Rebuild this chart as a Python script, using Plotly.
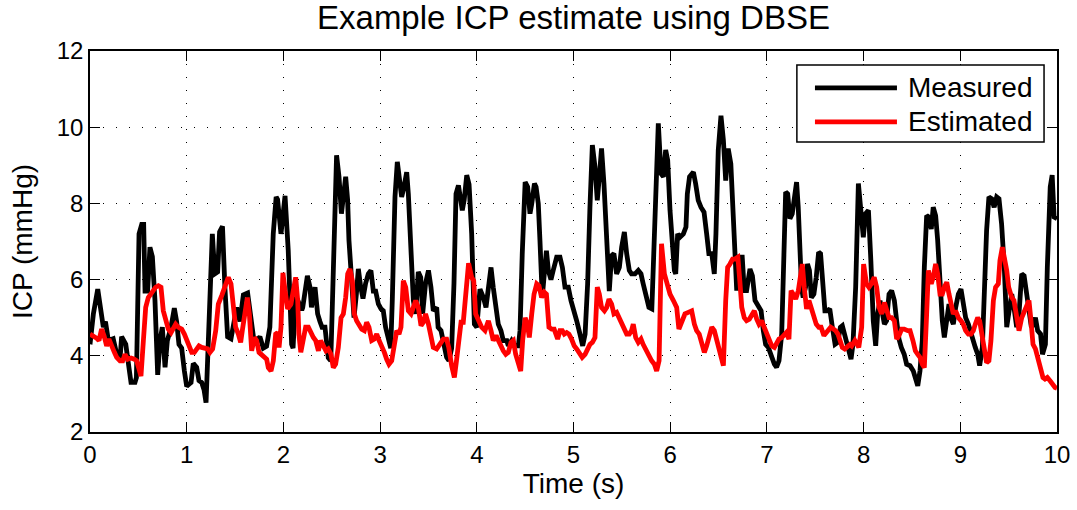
import plotly.graph_objects as go

measured_t = [0, 0.035, 0.08, 0.114, 0.138, 0.16, 0.19, 0.24, 0.276, 0.31, 0.327, 0.37, 0.397, 0.424, 0.465, 0.48,
    0.507, 0.535, 0.555, 0.569, 0.596, 0.62, 0.645, 0.672, 0.70, 0.724, 0.748, 0.776, 0.8, 0.838, 0.872, 0.896,
    0.92, 0.948, 0.976, 1.0, 1.045, 1.068, 1.103, 1.127, 1.155, 1.18, 1.2, 1.23, 1.265, 1.29, 1.32, 1.34, 1.37,
    1.395, 1.423, 1.458, 1.493, 1.517, 1.55, 1.586, 1.63, 1.654, 1.69, 1.723, 1.757, 1.792, 1.826, 1.86, 1.895,
    1.925, 1.94, 1.975, 2.017, 2.05, 2.085, 2.1, 2.126, 2.15, 2.19, 2.2, 2.248, 2.275, 2.29, 2.327, 2.354, 2.378,
    2.4, 2.43, 2.45, 2.464, 2.49, 2.516, 2.55, 2.575, 2.6, 2.62, 2.644, 2.664, 2.678, 2.706, 2.73, 2.754, 2.775,
    2.8, 2.823, 2.85, 2.878, 2.905, 2.93, 2.954, 2.982, 3.01, 3.033, 3.057, 3.085, 3.11, 3.126, 3.154, 3.178, 3.2,
    3.223, 3.247, 3.275, 3.292, 3.316, 3.344, 3.368, 3.395, 3.42, 3.44, 3.47, 3.5, 3.526, 3.55, 3.585, 3.6, 3.63,
    3.664, 3.688, 3.712, 3.74, 3.764, 3.785, 3.81, 3.833, 3.85, 3.87, 3.896, 3.92, 3.947, 3.975, 4.0, 4.033,
    4.068, 4.095, 4.12, 4.147, 4.17, 4.2, 4.222, 4.25, 4.274, 4.31, 4.326, 4.36, 4.395, 4.43, 4.447, 4.47, 4.5,
    4.526, 4.55, 4.568, 4.596, 4.613, 4.636, 4.653, 4.677, 4.698, 4.72, 4.74, 4.767, 4.79, 4.826, 4.86, 4.885,
    4.912, 4.946, 4.974, 4.998, 5.033, 5.067, 5.095, 5.12, 5.146, 5.17, 5.195, 5.222, 5.246, 5.267, 5.29, 5.315,
    5.343, 5.37, 5.394, 5.418, 5.446, 5.474, 5.498, 5.526, 5.55, 5.577, 5.6, 5.636, 5.67, 5.698, 5.72, 5.75, 5.78,
    5.81, 5.826, 5.85, 5.877, 5.905, 5.93, 5.953, 5.974, 5.998, 6.022, 6.043, 6.057, 6.077, 6.1, 6.136, 6.163,
    6.177, 6.2, 6.24, 6.263, 6.29, 6.318, 6.35, 6.377, 6.4, 6.43, 6.456, 6.473, 6.497, 6.525, 6.55, 6.574, 6.6,
    6.627, 6.653, 6.67, 6.688, 6.71, 6.745, 6.766, 6.79, 6.825, 6.85, 6.877, 6.91, 6.94, 6.963, 6.987, 7.015,
    7.05, 7.077, 7.1, 7.125, 7.153, 7.17, 7.194, 7.215, 7.238, 7.262, 7.283, 7.307, 7.324, 7.34, 7.358, 7.375,
    7.4, 7.42, 7.44, 7.46, 7.486, 7.51, 7.535, 7.555, 7.58, 7.6, 7.625, 7.65, 7.677, 7.705, 7.732, 7.76, 7.78,
    7.81, 7.84, 7.87, 7.89, 7.918, 7.946, 7.97, 7.997, 8.02, 8.05, 8.075, 8.1, 8.125, 8.145, 8.17, 8.194, 8.215,
    8.238, 8.263, 8.29, 8.318, 8.342, 8.366, 8.39, 8.42, 8.445, 8.48, 8.514, 8.538, 8.56, 8.583, 8.607, 8.628,
    8.652, 8.676, 8.7, 8.72, 8.745, 8.766, 8.79, 8.814, 8.835, 8.86, 8.883, 8.9, 8.928, 8.952, 8.98, 9.007, 9.03,
    9.055, 9.083, 9.11, 9.135, 9.155, 9.18, 9.2, 9.228, 9.248, 9.272, 9.296, 9.325, 9.35, 9.376, 9.4, 9.427,
    9.455, 9.48, 9.5, 9.532, 9.555, 9.583, 9.607, 9.635, 9.66, 9.686, 9.71, 9.735, 9.76, 9.777, 9.8, 9.83, 9.85,
    9.88, 9.9, 9.93, 9.95, 9.97, 10.0]
measured_v = [4.3, 5.1, 5.75, 5.1, 4.75, 4.9, 4.4, 4.45, 4.05, 3.9, 4.5, 4.3, 3.8, 3.3, 3.3, 3.43,
    7.2, 7.45, 7.45, 5.7, 5.7, 6.85, 6.6, 5.45, 3.5, 4.4, 4.75, 3.7, 4.4, 4.75, 5.25, 4.9,
    4.3, 4.2, 3.6, 3.2, 3.3, 3.8, 3.7, 3.35, 3.3, 3.1, 2.77, 4.57, 7.2, 6.15, 6.2, 7.25, 7.4,
    5.8, 4.5, 4.45, 5.0, 5.27, 4.9, 5.6, 5.65, 5.1, 4.5, 4.4, 4.5, 4.2, 4.25, 4.75, 7.2,
    8.17, 8.1, 7.2, 8.2, 6.76, 4.3, 4.2, 5.55, 5.45, 5.2, 5.27, 6.1, 5.8, 5.27, 5.8, 5.1, 4.9,
    4.75, 4.75, 4.2, 3.95, 3.87, 6.32, 9.26, 8.7, 7.73, 8.17, 8.7, 8.1, 7.03, 5.97, 5.0, 5.6, 6.28,
    5.8, 5.5, 5.9, 6.15, 6.24, 5.7, 5.7, 5.36, 5.23, 5.18, 4.75, 4.4, 4.2, 5.45, 8.17, 9.09, 8.7,
    8.17, 8.43, 8.82, 8.25, 7.03, 5.45, 5.1, 6.2, 6.06, 5.1, 5.9, 6.24, 5.8, 5.18, 5.27, 4.75, 4.66,
    4.3, 3.96, 3.87, 4.2, 5.9, 8.25, 8.47, 8.1, 7.82, 8.1, 8.74, 8.5, 7.2, 4.83, 4.75, 5.75,
    5.53, 5.27, 5.7, 6.32, 5.8, 5.18, 4.83, 4.66, 4.4, 4.4, 4.26, 4.4, 4.26, 4.26, 4.66, 6.68, 8.56,
    8.43, 7.73, 7.99, 8.52, 8.43, 7.99, 7.03, 5.53, 6.15, 6.76, 6.24, 6.0, 6.24, 6.59, 6.59, 6.32,
    5.8, 5.8, 5.45, 5.18, 4.92, 4.57, 4.26, 4.57, 5.89, 7.9, 9.53, 8.96, 8.08, 8.7, 9.44, 8.52,
    7.03, 5.7, 6.63, 6.68, 6.15, 6.32, 6.85, 7.25, 6.68, 6.24, 6.15, 6.15, 6.24, 6.15, 5.9, 5.53, 5.27,
    5.23, 6.32, 8.52, 10.1, 8.78, 8.7, 9.4, 9.13, 7.82, 6.85, 6.24, 6.15, 7.2, 7.11, 7.2, 7.38,
    8.25, 8.7, 8.82, 8.52, 8.08, 7.9, 7.77, 7.2, 6.68, 6.68, 6.15, 7.2, 9.4, 10.3, 9.66, 8.6, 9.44,
    9.04, 7.64, 6.59, 5.71, 6.59, 6.59, 5.71, 5.71, 6.28, 6.1, 5.45, 5.27, 5.18, 4.66, 4.3, 4.22,
    3.96, 3.78, 3.7, 3.87, 4.57, 5.97, 8.3, 8.25, 7.6, 7.73, 8.08, 8.56, 7.9, 6.68, 5.8, 5.53,
    5.8, 6.41, 6.24, 5.53, 5.62, 6.06, 6.72, 6.68, 5.8, 5.18, 5.18, 5.23, 4.75, 4.3, 4.35, 4.75, 4.79,
    4.48, 4.3, 3.91, 4.3, 5.8, 8.52, 7.82, 7.11, 7.73, 7.82, 6.5, 4.92, 4.26, 5.1, 5.45, 5.1, 4.83,
    4.92, 5.62, 5.71, 5.45, 4.92, 4.44, 4.22, 4.04, 3.78, 3.74, 3.6, 3.34, 3.21, 3.6, 4.4, 6.32,
    7.68, 7.64, 7.33, 7.9, 7.68, 7.03, 5.8, 4.92, 4.48, 5.0, 5.36, 5.0, 4.83, 5.27, 5.62, 5.75, 5.36,
    5.0, 4.83, 4.57, 4.4, 4.22, 4.04, 3.74, 4.22, 5.8, 7.29, 8.17, 8.12, 7.9, 8.17, 8.12, 7.46,
    6.32, 4.75, 5.1, 5.62, 5.27, 4.75, 5.1, 6.15, 6.1, 5.62, 5.18, 4.75, 4.83, 5.0, 4.66, 4.57, 4.04,
    4.3, 6.32, 8.43, 8.74, 7.64, 7.6]

estimated_t = [0, 0.035, 0.07, 0.093, 0.12, 0.145, 0.172, 0.196, 0.224, 0.252, 0.276, 0.31, 0.338, 0.362, 0.39,
    0.424, 0.458, 0.482, 0.507, 0.527, 0.552, 0.576, 0.603, 0.63, 0.655, 0.679, 0.707, 0.734, 0.758, 0.782, 0.81,
    0.838, 0.862, 0.886, 0.913, 0.948, 0.976, 1.0, 1.024, 1.052, 1.079, 1.103, 1.127, 1.155, 1.19, 1.217, 1.24,
    1.268, 1.3, 1.327, 1.362, 1.396, 1.43, 1.458, 1.482, 1.506, 1.534, 1.558, 1.575, 1.603, 1.627, 1.648, 1.672,
    1.7, 1.723, 1.748, 1.775, 1.8, 1.827, 1.844, 1.872, 1.896, 1.92, 1.94, 1.955, 1.975, 1.995, 2.017, 2.044,
    2.078, 2.1, 2.127, 2.148, 2.16, 2.18, 2.206, 2.23, 2.258, 2.285, 2.31, 2.334, 2.362, 2.385, 2.413, 2.44,
    2.464, 2.492, 2.516, 2.54, 2.568, 2.596, 2.62, 2.644, 2.665, 2.688, 2.713, 2.733, 2.757, 2.78, 2.81, 2.837,
    2.861, 2.885, 2.913, 2.94, 2.965, 2.99, 3.017, 3.044, 3.068, 3.092, 3.12, 3.147, 3.172, 3.196, 3.216, 3.24,
    3.265, 3.292, 3.32, 3.344, 3.368, 3.395, 3.423, 3.447, 3.47, 3.5, 3.526, 3.55, 3.585, 3.62, 3.654, 3.688,
    3.71, 3.74, 3.768, 3.79, 3.815, 3.837, 3.86, 3.885, 3.915, 3.947, 3.968, 3.988, 4.015, 4.05, 4.085, 4.12,
    4.147, 4.17, 4.2, 4.222, 4.25, 4.274, 4.3, 4.326, 4.354, 4.378, 4.402, 4.43, 4.454, 4.474, 4.5, 4.523, 4.543,
    4.568, 4.592, 4.62, 4.643, 4.67, 4.698, 4.72, 4.746, 4.774, 4.8, 4.836, 4.86, 4.884, 4.905, 4.93, 4.953, 4.98,
    5.007, 5.033, 5.06, 5.09, 5.12, 5.146, 5.17, 5.195, 5.222, 5.246, 5.267, 5.29, 5.32, 5.343, 5.367, 5.394,
    5.418, 5.446, 5.47, 5.498, 5.526, 5.55, 5.577, 5.6, 5.618, 5.643, 5.67, 5.698, 5.72, 5.75, 5.78, 5.808, 5.836,
    5.86, 5.885, 5.91, 5.94, 5.963, 5.998, 6.033, 6.067, 6.09, 6.118, 6.153, 6.187, 6.222, 6.25, 6.273, 6.3,
    6.325, 6.353, 6.377, 6.4, 6.43, 6.456, 6.48, 6.505, 6.525, 6.55, 6.574, 6.594, 6.618, 6.645, 6.67, 6.7, 6.72,
    6.74, 6.766, 6.79, 6.818, 6.84, 6.87, 6.895, 6.918, 6.945, 6.97, 6.995, 7.02, 7.05, 7.077, 7.1, 7.125, 7.153,
    7.18, 7.2, 7.228, 7.25, 7.272, 7.298, 7.325, 7.35, 7.366, 7.386, 7.41, 7.435, 7.46, 7.486, 7.51, 7.537, 7.56,
    7.59, 7.612, 7.636, 7.66, 7.69, 7.71, 7.735, 7.756, 7.78, 7.805, 7.83, 7.86, 7.877, 7.91, 7.95, 7.98, 8.0,
    8.03, 8.055, 8.08, 8.11, 8.135, 8.16, 8.187, 8.215, 8.24, 8.263, 8.29, 8.318, 8.342, 8.366, 8.394, 8.42,
    8.456, 8.48, 8.51, 8.535, 8.56, 8.583, 8.607, 8.628, 8.652, 8.67, 8.7, 8.72, 8.745, 8.766, 8.79, 8.814,
    8.835, 8.86, 8.883, 8.9, 8.928, 8.952, 8.98, 9.007, 9.03, 9.055, 9.083, 9.11, 9.135, 9.155, 9.18, 9.2, 9.22,
    9.248, 9.272, 9.296, 9.317, 9.342, 9.365, 9.393, 9.41, 9.435, 9.455, 9.48, 9.5, 9.532, 9.555, 9.583, 9.607,
    9.635, 9.66, 9.686, 9.71, 9.728, 9.752, 9.777, 9.8, 9.83, 9.855, 9.876, 9.9, 9.93, 9.95, 9.98, 10.0]
estimated_v = [4.57, 4.53, 4.46, 4.4, 4.7, 4.53, 4.26, 4.44, 4.22, 4.09, 3.96, 3.87, 3.87, 4.04, 3.91,
    3.94, 3.91, 3.87, 3.65, 3.47, 4.4, 5.27, 5.53, 5.62, 5.71, 5.8, 5.84, 5.8, 5.18, 4.92, 4.7,
    4.61, 4.7, 4.83, 4.75, 4.7, 4.57, 4.4, 4.22, 4.09, 4.09, 4.18, 4.26, 4.22, 4.18, 4.18, 4.09,
    4.18, 4.66, 5.36, 5.58, 5.84, 6.06, 5.89, 5.18, 4.75, 4.57, 4.35, 4.66, 5.27, 5.53, 5.1, 4.13,
    4.48, 4.4, 4.09, 4.04, 3.96, 3.91, 3.69, 3.6, 3.87, 4.57, 4.61, 4.22, 4.75, 6.18, 5.71, 5.23,
    5.36, 5.62, 6.06, 5.45, 4.57, 4.09, 4.4, 4.75, 4.75, 4.57, 4.48, 4.4, 4.13, 4.4, 4.22, 4.13,
    4.18, 4.04, 3.69, 3.78, 4.22, 5.0, 5.1, 5.53, 6.15, 6.28, 5.97, 5.1, 4.92, 4.83, 4.7, 4.66,
    4.88, 4.75, 4.4, 4.44, 4.57, 4.4, 4.26, 4.09, 3.91, 3.78, 3.87, 4.22, 4.66, 4.57, 4.75, 5.97,
    5.8, 5.18, 5.1, 5.27, 5.45, 5.27, 4.79, 4.88, 5.1, 4.83, 4.57, 4.22, 4.18, 4.3, 4.44, 4.44,
    4.22, 3.74, 3.43, 3.87, 4.4, 4.88, 4.88, 5.71, 6.43, 6.06, 5.97, 5.1, 4.92, 4.75, 4.66, 4.92,
    4.66, 4.4, 4.53, 4.4, 4.3, 4.13, 4.04, 4.09, 4.35, 4.4, 4.04, 3.78, 3.6, 4.4, 5.0, 4.83, 4.48,
    5.1, 5.62, 5.89, 5.84, 5.53, 5.67, 5.62, 4.75, 4.7, 4.7, 4.44, 4.66, 4.66, 4.57, 4.61, 4.57, 4.44,
    4.26, 4.18, 4.09, 3.96, 4.04, 4.22, 4.3, 4.35, 4.48, 5.8, 5.62, 5.27, 5.18, 5.27, 5.49, 5.36,
    5.1, 5.14, 5.0, 4.88, 4.66, 4.57, 4.57, 4.66, 4.83, 4.48, 4.35, 4.44, 4.3, 4.13, 3.96, 3.87, 3.78,
    3.6, 3.87, 6.94, 6.15, 5.89, 5.62, 5.45, 5.27, 4.7, 4.92, 5.1, 5.14, 5.18, 4.83, 4.66, 4.57,
    4.3, 4.09, 4.26, 4.48, 4.75, 4.66, 4.44, 4.22, 3.96, 3.74, 5.45, 6.32, 6.41, 6.54, 6.54, 6.59, 5.97,
    5.27, 5.0, 4.92, 4.96, 5.05, 5.18, 4.96, 4.83, 4.92, 4.75, 4.57, 4.4, 4.26, 4.22, 4.3, 4.44, 4.48,
    4.57, 4.61, 4.44, 5.71, 5.62, 5.49, 5.71, 6.06, 6.41, 5.8, 5.23, 5.45, 5.27, 5.0, 4.83, 4.75, 4.75,
    4.53, 4.61, 4.7, 4.75, 4.7, 4.66, 4.57, 4.4, 4.22, 4.18, 4.22, 4.3, 4.26, 4.4, 4.22, 4.75, 6.41,
    5.89, 5.8, 5.89, 6.06, 5.8, 5.27, 5.1, 5.4, 5.23, 5.0, 5.0, 4.92, 4.44, 4.53, 4.7, 4.7,
    4.66, 4.66, 4.4, 4.13, 4.04, 3.96, 3.78, 3.69, 5.1, 6.24, 5.89, 6.06, 6.41, 6.15, 5.62, 5.62,
    5.8, 5.93, 5.62, 5.36, 5.1, 5.18, 5.0, 4.92, 4.83, 4.66, 4.57, 4.57, 4.66, 4.83, 5.0, 4.92, 4.57,
    4.13, 3.82, 3.87, 4.4, 5.45, 5.8, 5.89, 6.5, 6.85, 6.59, 6.24, 5.8, 5.53, 5.45, 5.1, 4.66,
    5.0, 5.18, 5.36, 5.45, 5.0, 4.3, 4.18, 3.96, 3.6, 3.43, 3.39, 3.43, 3.34, 3.25, 3.17, 3.15]

x_ticks = [0, 1, 2, 3, 4, 5, 6, 7, 8, 9, 10]
y_ticks = [2, 4, 6, 8, 10, 12]
series_names = ["Measured", "Estimated"]
series_colors = ["#000000", "#ff0000"]

FONT = "Liberation Sans, Arial, Helvetica, sans-serif"

fig = go.Figure()
fig.add_trace(go.Scatter(x=measured_t, y=measured_v, mode="lines", name=series_names[0],
                         line=dict(color=series_colors[0], width=4.8), showlegend=False))
fig.add_trace(go.Scatter(x=estimated_t, y=estimated_v, mode="lines", name=series_names[1],
                         line=dict(color=series_colors[1], width=4.8), showlegend=False))

axis_common = dict(
    showline=True, linecolor="black", linewidth=1.5, mirror="ticks",
    ticks="inside", ticklen=10, tickwidth=1.2, tickcolor="black",
    showgrid=True, gridcolor="black", gridwidth=1, griddash="1px,12px",
    zeroline=False, automargin=False,
    tickfont=dict(family=FONT, size=24, color="black"),
)

# MATLAB-style legend box (long line samples) drawn in paper coordinates
leg_x0, leg_x1, leg_y0, leg_y1 = 0.731, 0.9866, 0.761, 0.963
shapes = [dict(type="rect", xref="paper", yref="paper", x0=leg_x0, x1=leg_x1, y0=leg_y0, y1=leg_y1,
               line=dict(color="black", width=1.5), fillcolor="white", layer="above")]
annotations = []
row_y = [0.903, 0.814]
for name, color, yy in zip(series_names, series_colors, row_y):
    shapes.append(dict(type="line", xref="paper", yref="paper", x0=0.7497, x1=0.8345, y0=yy, y1=yy,
                       line=dict(color=color, width=4.8), layer="above"))
    annotations.append(dict(xref="paper", yref="paper", x=0.844, y=yy, text=name, showarrow=False,
                            xanchor="left", yanchor="middle",
                            font=dict(family=FONT, size=28, color="black")))

fig.update_layout(
    width=1077, height=510,
    margin=dict(l=90, r=20, t=51, b=78, autoexpand=False),
    paper_bgcolor="white", plot_bgcolor="white",
    font=dict(family=FONT, color="black"),
    title=dict(text="Example ICP estimate using DBSE", x=0.5, xanchor="center", xref="paper",
               y=0.965, yanchor="middle", font=dict(family=FONT, size=33, color="black")),
    xaxis=dict(range=[0, 10], tickvals=x_ticks, ticktext=[str(v) for v in x_ticks],
               title=dict(text="Time (s)", font=dict(family=FONT, size=28), standoff=7),
               **axis_common),
    yaxis=dict(range=[2, 12], tickvals=y_ticks, ticktext=[str(v) for v in y_ticks],
               title=dict(text="ICP (mmHg)", font=dict(family=FONT, size=28), standoff=16),
               **axis_common),
    shapes=shapes,
    annotations=annotations,
    showlegend=False,
)

fig.write_html("out.html")
